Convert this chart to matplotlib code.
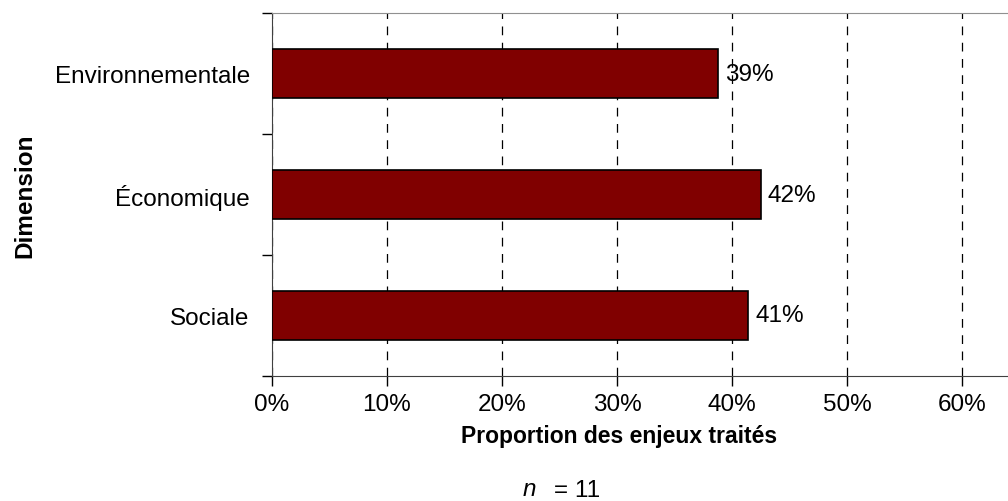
import numpy as np
import matplotlib.pyplot as plt
from matplotlib.ticker import PercentFormatter, FixedLocator

plt.rcParams['font.family'] = ['Liberation Sans', 'DejaVu Sans']

# Data
dimensions = ['Sociale', 'Économique', 'Environnementale']
proportions = [0.414, 0.425, 0.388]
labels = ['41%', '42%', '39%']

fig = plt.figure(figsize=(10.08, 5.02), dpi=100)
W, H = 1008, 502
ax = fig.add_axes([272 / W, 1 - 377 / H, (1008 - 272) / W, (377 - 14) / H])

y = np.arange(len(dimensions))
ax.barh(y, proportions, height=0.405, color='#800000', edgecolor='black',
        linewidth=1.2, zorder=3)

for yi, v, lab in zip(y, proportions, labels):
    ax.text(v + 0.006, yi, lab, va='center', ha='left', fontsize=17.5)

ax.set_xlim(0, 736 / 1150)
ax.set_ylim(-0.5, len(dimensions) - 0.5)

ax.set_xticks(np.arange(0, 0.61, 0.1))
ax.xaxis.set_major_formatter(PercentFormatter(1.0, decimals=0))
ax.set_yticks(y)
ax.set_yticklabels(dimensions)
ax.yaxis.set_minor_locator(FixedLocator(np.arange(-0.5, len(dimensions), 1.0)))
ax.tick_params(axis='y', which='major', length=0, pad=16, labelsize=17.5)
ax.tick_params(axis='y', which='minor', length=7, width=1, direction='out')
ax.tick_params(axis='x', length=7, width=1, direction='out', pad=5,
               labelsize=17.5)

ax.xaxis.grid(True, linestyle=(0, (7, 6)), color='black', linewidth=0.9, zorder=0)
ax.set_axisbelow(True)

ax.spines['right'].set_visible(False)
ax.spines['top'].set_color('#909090')
ax.spines['left'].set_color('#404040')
ax.spines['bottom'].set_color('#404040')

ax.set_xlabel('Proportion des enjeux traités', fontsize=16.5, fontweight='bold')
ax.xaxis.set_label_coords((619 - 272) / (1008 - 272), -(437 - 377) / (377 - 14))
ax.xaxis.label.set_va('center')
ax.set_ylabel('Dimension', fontsize=17.5, fontweight='bold')
ax.yaxis.set_label_coords(-(272 - 25) / (1008 - 272), 0.5)
ax.yaxis.label.set_va('center')

fig.text(529 / W, 1 - 490 / H, 'n', style='italic', fontsize=17.5,
         ha='center', va='center')
fig.text(577 / W, 1 - 491 / H, '= 11', fontsize=17.5, ha='center', va='center')

fig.savefig('out.png', dpi=100)
